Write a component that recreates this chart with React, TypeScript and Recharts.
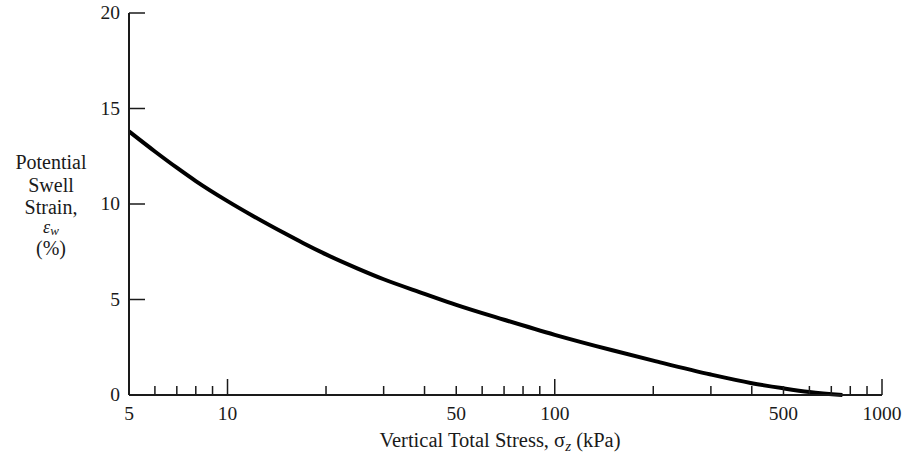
import React from 'react';
import { LineChart, Line, XAxis, YAxis } from 'recharts';

// Vertical total stress (kPa) and potential swell strain (%)
const stress = [5, 6, 7, 8, 10, 12, 15, 17, 20, 25, 30, 40, 50, 70, 100, 150, 200, 300, 400, 500, 600, 757];
const swellStrain = [13.8, 12.75, 11.9, 11.2, 10.15, 9.36, 8.45, 7.96, 7.36, 6.62, 6.06, 5.3, 4.72, 3.94, 3.15, 2.34, 1.8, 1.07, 0.62, 0.35, 0.16, 0];

const xTicks = [5, 6, 7, 8, 9, 10, 20, 30, 40, 50, 60, 70, 80, 90, 100, 200, 300, 400, 500, 600, 700, 800, 900, 1000];
const xLabeled = [5, 10, 50, 100, 500, 1000];
const xMajor = [10, 100, 1000];
const yTicks = [0, 5, 10, 15, 20];

const data = stress.map((s, i) => ({ stress: s, strain: swellStrain[i] }));

const FONT = '"Liberation Serif", "Times New Roman", serif';
const INK = '#1a1a1a';

const XTick = (props: any) => {
  const { x, y, payload } = props;
  const v = payload.value;
  const len = xMajor.includes(v) ? 16 : 9;
  return (
    <g>
      {v !== 5 && <line x1={x} y1={y} x2={x} y2={y - len} stroke={INK} strokeWidth={1.5} />}
      {xLabeled.includes(v) && (
        <text x={x} y={y + 25} textAnchor="middle" fontFamily={FONT} fontSize={19.5} fill={INK}>
          {v}
        </text>
      )}
    </g>
  );
};

const YTick = (props: any) => {
  const { x, y, payload } = props;
  return (
    <g>
      {payload.value !== 0 && <line x1={x} y1={y} x2={x + 16} y2={y} stroke={INK} strokeWidth={1.5} />}
      <text x={x - 9} y={y + 6} textAnchor="end" fontFamily={FONT} fontSize={19.5} fill={INK}>
        {payload.value}
      </text>
    </g>
  );
};

const YTitle = (props: any) => {
  const vb = props.viewBox || { x: 0, y: 13 };
  const cx = vb.x + 51;
  return (
    <text x={cx} y={169} textAnchor="middle" fontFamily={FONT} fontSize={20} fill={INK}>
      <tspan x={cx}>Potential</tspan>
      <tspan x={cx} dy={23}>Swell</tspan>
      <tspan x={cx} dy={22}>Strain,</tspan>
      <tspan x={cx} dy={19} fontStyle="italic" fontSize={18}>ε</tspan>
      <tspan fontStyle="italic" fontSize={13} dy={2}>w</tspan>
      <tspan x={cx} dy={20}>(%)</tspan>
    </text>
  );
};

const XTitle = () => {
  return (
    <text x={500} y={447} textAnchor="middle" fontFamily={FONT} fontSize={20.5} fill={INK}>
      Vertical Total Stress, σ
      <tspan fontStyle="italic" fontSize={15} dy={4}>z</tspan>
      <tspan dy={-4}> (kPa)</tspan>
    </text>
  );
};

export default function App() {
  return (
    <div style={{ position: 'absolute', left: 0, top: 0, background: '#fff' }}>
      <LineChart width={915} height={464} data={data} margin={{ top: 13, right: 33, left: 0, bottom: 0 }}>
        <XAxis
          dataKey="stress"
          type="number"
          scale="log"
          domain={[5, 1000]}
          ticks={xTicks}
          interval={0}
          height={69}
          tickSize={0}
          tickMargin={0}
          tickLine={false}
          axisLine={{ stroke: INK, strokeWidth: 2 }}
          tick={<XTick />}
          allowDataOverflow
          label={{ content: <XTitle /> }}
        />
        <YAxis
          type="number"
          domain={[0, 20]}
          ticks={yTicks}
          interval={0}
          width={129}
          tickSize={0}
          tickMargin={0}
          tickLine={false}
          axisLine={{ stroke: INK, strokeWidth: 2 }}
          tick={<YTick />}
          label={{ content: <YTitle /> }}
        />
        <Line
          dataKey="strain"
          type="monotone"
          stroke="#000"
          strokeWidth={4}
          dot={false}
          isAnimationActive={false}
        />
      </LineChart>
    </div>
  );
}
